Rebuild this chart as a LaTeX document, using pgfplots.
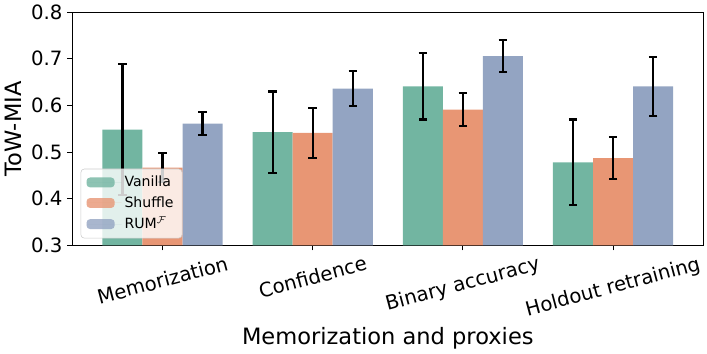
\documentclass[border=0pt]{standalone}
\usepackage{pgfplots}
\pgfplotsset{compat=1.18}
\usepackage{pgfplotstable}
\usepackage{fontspec}
\setmainfont{DejaVu Sans}

\definecolor{cvan}{RGB}{114,181,161}
\definecolor{cshu}{RGB}{232,150,116}
\definecolor{crum}{RGB}{147,164,194}

% bar heights and half-widths of the error bars
\pgfplotstableread{
x van vanerr shu shuerr rum rumerr
0 0.548 0.140 0.467 0.032 0.561 0.025
1 0.543 0.087 0.541 0.054 0.636 0.037
2 0.641 0.071 0.591 0.035 0.706 0.035
3 0.478 0.092 0.487 0.045 0.641 0.063
}\data

\begin{document}
\begin{tikzpicture}
\begin{axis}[
    width=447.8pt, height=165.6pt, scale only axis,
    xmin=-0.6, xmax=3.6, ymin=0.3, ymax=0.8,
    ytick={0.3,0.4,0.5,0.6,0.7,0.8},
    yticklabel style={/pgf/number format/fixed, /pgf/number format/precision=1,
        /pgf/number format/fixed zerofill},
    xtick={0,1,2,3},
    xticklabels={\rotatebox{15}{Memorization},\rotatebox{15}{Confidence},
        \rotatebox{15}{Binary accuracy},\rotatebox{15}{Holdout retraining}},
    xticklabel style={anchor=north},
    xtick pos=left, ytick pos=left,
    tick align=outside, major tick length=3.5pt,
    tick style={black, line width=0.8pt},
    axis line style={line width=0.8pt},
    tick label style={font=\fontsize{14}{16}\selectfont},
    label style={font=\fontsize{16}{19}\selectfont},
    xlabel style={yshift=2pt},
    /pgf/number format/assume math mode=true,
    xlabel={Memorization and proxies}, ylabel={ToW-MIA},
    ybar, bar width=0.2667,
    legend cell align=left,
    legend style={at={(0.013,0.03)}, anchor=south west,
        font=\fontsize{10}{12}\selectfont, fill=white, fill opacity=0.8,
        text opacity=1, draw=black!20, rounded corners=2.5pt,
        row sep=1.5pt, inner xsep=4pt, inner ysep=3pt},
    legend image code/.code={\fill[#1] (0pt,-3.5pt) rectangle (20pt,3.5pt);
        \path (0pt,0pt) -- (25pt,0pt);},
    every axis plot/.append style={draw=none,
        error bars/y dir=both, error bars/y explicit,
        error bars/error bar style={line width=1.5pt, black},
        error bars/error mark options={rotate=90, mark size=3pt, line width=1.5pt, black}},
]
\addplot[fill=cvan, bar shift=-0.2667] table[x=x, y=van, y error=vanerr]{\data};
\addplot[fill=cshu, bar shift=0] table[x=x, y=shu, y error=shuerr]{\data};
\addplot[fill=crum, bar shift=0.2667] table[x=x, y=rum, y error=rumerr]{\data};
\legend{Vanilla, Shuffle, RUM$^{\mathcal{F}}$}
\end{axis}
\end{tikzpicture}
\end{document}
